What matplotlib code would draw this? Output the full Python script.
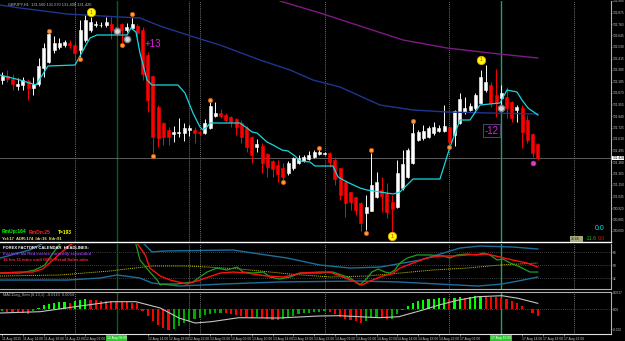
import matplotlib
matplotlib.use("Agg")
import matplotlib.pyplot as plt
from matplotlib.patches import Rectangle
import numpy as np

plt.rcParams['font.family'] = ['Liberation Sans', 'DejaVu Sans']

# ---------------- data ----------------
title_text = "GBPJPY,H1  131.560 131.570 131.400 131.420"

opens = [132.20, 132.24, 132.21, 132.14, 132.15, 132.19, 132.12, 132.16, 132.32, 132.38,
         132.50, 132.53, 132.55, 132.57, 132.55, 132.50, 132.60, 132.70, 132.75, 132.75,
         132.75, 132.76, 132.73, 132.76, 132.70, 132.72, 132.74, 132.70, 132.45, 132.24,
         131.93, 131.77, 131.70, 131.66, 131.67, 131.67, 131.70, 131.70, 131.68, 131.67,
         131.72, 131.84, 131.87, 131.85, 131.83, 131.81, 131.77, 131.72, 131.63, 131.53,
         131.54, 131.46, 131.39, 131.35, 131.32, 131.27, 131.32, 131.37, 131.39, 131.41,
         131.43, 131.46, 131.46, 131.47, 131.40, 131.32, 131.18, 131.08, 131.03, 130.97,
         130.87, 130.89, 131.03, 131.10, 131.07, 130.98, 130.93, 131.12, 131.23, 131.37,
         131.60, 131.62, 131.63, 131.67, 131.69, 131.69, 131.73, 131.65, 131.77, 131.88,
         131.90, 131.92, 131.97, 132.10, 132.15, 132.05, 132.02, 132.03, 131.98, 131.90,
         131.92, 131.80, 131.66, 131.56]
highs = [132.28, 132.30, 132.26, 132.22, 132.23, 132.21, 132.23, 132.42, 132.57, 132.70,
         132.64, 132.62, 132.60, 132.60, 132.58, 132.80, 132.85, 132.83, 132.79, 132.78,
         132.83, 132.83, 132.75, 132.77, 132.77, 132.84, 132.76, 132.73, 132.48, 132.25,
         131.95, 131.78, 131.73, 131.74, 131.82, 131.77, 131.75, 131.73, 131.70, 131.81,
         131.98, 131.98, 131.91, 131.87, 131.84, 131.82, 131.80, 131.74, 131.64, 131.61,
         131.57, 131.47, 131.40, 131.40, 131.37, 131.39, 131.43, 131.45, 131.45, 131.49,
         131.50, 131.51, 131.48, 131.48, 131.43, 131.32, 131.18, 131.08, 131.03, 130.98,
         131.05, 131.47, 131.28, 131.23, 131.17, 131.05, 131.40, 131.50, 131.52, 131.78,
         131.70, 131.75, 131.74, 131.78, 131.75, 131.95, 131.74, 131.90, 132.07, 132.03,
         131.97, 132.07, 132.30, 132.35, 132.18, 132.31, 132.15, 132.13, 131.99, 131.95,
         131.95, 131.85, 131.67, 131.57]
lows = [132.16, 132.18, 132.10, 132.10, 132.10, 132.00, 132.05, 132.14, 132.23, 132.37,
        132.47, 132.51, 132.53, 132.52, 132.40, 132.43, 132.58, 132.68, 132.73, 132.73,
        132.73, 132.61, 132.64, 132.57, 132.68, 132.71, 132.63, 132.20, 131.88, 131.47,
        131.53, 131.55, 131.55, 131.58, 131.63, 131.59, 131.64, 131.57, 131.65, 131.66,
        131.71, 131.83, 131.82, 131.78, 131.73, 131.65, 131.57, 131.48, 131.37, 131.48,
        131.27, 131.23, 131.23, 131.18, 131.20, 131.25, 131.30, 131.36, 131.38, 131.40,
        131.42, 131.45, 131.45, 131.33, 131.15, 131.00, 130.83, 130.90, 130.85, 130.69,
        130.70, 130.89, 131.02, 130.88, 130.82, 130.67, 130.92, 131.10, 131.22, 131.36,
        131.59, 131.60, 131.62, 131.65, 131.68, 131.68, 131.54, 131.54, 131.76, 131.86,
        131.89, 131.90, 131.96, 132.08, 131.93, 131.83, 131.90, 131.82, 131.78, 131.78,
        131.52, 131.57, 131.43, 131.40]
closes = [132.24, 132.21, 132.16, 132.16, 132.20, 132.12, 132.16, 132.34, 132.52, 132.66,
          132.57, 132.57, 132.58, 132.55, 132.47, 132.70, 132.80, 132.78, 132.76, 132.75,
          132.78, 132.70, 132.67, 132.70, 132.73, 132.76, 132.67, 132.26, 132.00, 131.63,
          131.62, 131.63, 131.63, 131.68, 131.68, 131.72, 131.72, 131.67, 131.67, 131.77,
          131.94, 131.87, 131.84, 131.80, 131.78, 131.73, 131.63, 131.53, 131.45, 131.56,
          131.37, 131.33, 131.31, 131.26, 131.23, 131.37, 131.42, 131.42, 131.43, 131.45,
          131.48, 131.48, 131.47, 131.38, 131.21, 131.05, 130.97, 130.98, 130.90, 130.77,
          130.93, 131.15, 131.18, 131.04, 130.88, 130.91, 131.27, 131.36, 131.50, 131.67,
          131.68, 131.69, 131.72, 131.73, 131.72, 131.74, 131.58, 131.89, 132.01, 131.92,
          131.94, 132.05, 132.23, 132.18, 131.97, 131.97, 132.07, 131.92, 131.82, 131.93,
          131.68, 131.60, 131.47, 131.42]
last_price = 131.42

# trailing stop (cyan)
cyan_x = [-0.42, 3.42, 6.5, 8.81, 14.0, 16.88, 18.23, 24.0, 24.77, 25.73, 26.5, 27.85, 28.81,
          33.81, 35.15, 36.69, 38.04, 38.62, 39.38, 39.96, 45.73, 47.08, 48.04, 49.0, 50.92,
          52.08, 53.81, 54.96, 56.31, 57.27, 59.19, 60.15, 63.62, 64.58, 66.31, 68.81, 70.15,
          72.65, 75.15, 76.5, 77.85, 79.0, 84.19, 86.12, 88.04, 89.96, 91.88, 95.73, 97.08,
          99.0, 99.96, 101.12, 103.04]
cyan_y = [132.25, 132.20, 132.15, 132.34, 132.35, 132.62, 132.65, 132.65, 132.72, 132.68,
          132.47, 132.20, 132.15, 132.15, 132.07, 131.87, 131.73, 131.70, 131.73, 131.77,
          131.77, 131.72, 131.68, 131.67, 131.58, 131.55, 131.50, 131.49, 131.44, 131.39,
          131.38, 131.34, 131.34, 131.23, 131.18, 131.12, 131.10, 131.08, 131.06, 131.08,
          131.15, 131.21, 131.21, 131.53, 131.80, 131.80, 131.95, 131.97, 132.10, 132.08,
          132.00, 131.92, 131.85]

# moving averages
blue_x = [-0.42, 3.42, 12.46, 22.65, 26.5, 30.35, 37.46, 41.88, 49.58, 55.35, 59.77, 64.96,
          72.65, 79.0, 85.54, 93.81, 103.0]
blue_y = [132.95, 132.92, 132.86, 132.83, 132.82, 132.74, 132.62, 132.55, 132.40, 132.30,
          132.20, 132.13, 131.95, 131.90, 131.88, 131.87, 131.86]
purple_x = [53.42, 61.12, 68.81, 77.08, 85.54, 93.81, 103.0]
purple_y = [132.99, 132.87, 132.74, 132.60, 132.52, 132.47, 132.42]

# markers
fractal_x = [9, 15, 23, 25, 29, 40, 54, 61, 70, 71, 79, 86]
fractal_y = [132.69, 132.41, 132.55, 132.86, 131.44, 132.00, 131.18, 131.52, 130.67, 131.50, 131.79, 131.53]
signal_x = [17, 75, 92]
signal_y = [132.88, 130.64, 132.40]
swing_x = [22, 24, 96]
swing_y = [132.69, 132.61, 131.92]
exit_x = [102]
exit_y = [131.37]

# RSI-type oscillator panel
rsi_green_x = [-0.4, 3.4, 6.3, 8.2, 10.2, 12.1, 20.0, 25.5, 26.5, 28.4, 29.8, 30.4, 31.0, 33.6,
               36.7, 38.0, 39.4, 41.3, 43.2, 45.2, 46.3, 48.2, 50.2, 51.5, 53.4, 55.4, 57.3,
               61.1, 63.6, 66.9, 68.8, 70.2, 71.1, 72.3, 73.6, 74.6, 75.5, 76.5, 77.9, 79.8,
               82.3, 84.8, 86.1, 87.5, 89.4, 91.3, 92.5, 93.8, 95.2, 96.3, 97.7, 99.6, 101.5, 103.0]
rsi_green_y = [38.9, 38.9, 43.1, 50.0, 70.8, 88.0, 90.0, 85.0, 56.9, 40.3, 29.2, 22.3, 23.7, 23.7,
               26.5, 33.4, 40.3, 45.8, 43.1, 47.2, 40.3, 38.9, 40.3, 33.4, 30.6, 33.4, 38.9,
               38.9, 40.3, 32.0, 22.3, 32.0, 40.3, 44.5, 40.3, 38.9, 43.1, 52.8, 59.7, 63.9,
               63.9, 62.5, 59.7, 63.9, 65.2, 63.9, 66.6, 63.9, 56.9, 58.3, 52.8, 47.2, 40.3, 40.3]
rsi_red_x = [-0.4, 3.4, 5.9, 7.8, 10.2, 13.0, 15.9, 25.5, 27.5, 28.4, 30.4, 32.3, 35.5, 38.0,
             41.9, 44.4, 47.1, 50.9, 54.0, 55.9, 57.3, 61.1, 63.0, 65.5, 67.5, 69.2, 70.7,
             73.2, 74.9, 76.5, 79.0, 81.7, 84.2, 86.7, 89.4, 93.2, 95.7, 98.2, 100.9, 103.0]
rsi_red_y = [38.9, 40.3, 40.3, 44.5, 59.7, 77.7, 87.4, 84.6, 63.9, 45.8, 34.8, 29.2, 23.7, 29.2,
             38.9, 40.3, 38.9, 34.8, 33.4, 36.2, 38.9, 40.3, 40.3, 33.4, 27.8, 22.3, 27.8,
             34.8, 37.5, 45.8, 52.8, 59.7, 62.5, 62.5, 63.9, 65.2, 61.1, 56.9, 52.8, 47.2]
rsi_sig_x = [-0.4, 11.1, 20.7, 28.8, 36.1, 45.7, 55.4, 63.0, 70.2, 76.5, 82.8, 89.4, 95.7, 103.0]
rsi_sig_y = [34.8, 36.2, 41.7, 48.6, 48.6, 44.5, 37.5, 33.4, 34.8, 38.9, 43.1, 45.8, 50.0, 52.8]
band_up_x = [-0.4, 5.3, 9.2, 26.5, 28.8, 31.0, 44.4, 48.2, 54.8, 61.1, 66.9, 72.7, 80.4, 85.5,
             88.0, 91.9, 98.2, 103.0]
band_up_y = [59.7, 70.8, 85.0, 85.0, 68.0, 69.4, 70.8, 66.6, 59.7, 50.0, 45.8, 47.2, 56.9, 68.0,
             73.5, 76.3, 74.9, 72.2]
band_lo_x = [-0.4, 12.5, 18.8, 22.1, 26.5, 28.8, 34.1, 42.5, 53.2, 68.6, 76.3, 83.8, 91.5, 96.1,
             99.2, 103.0]
band_lo_y = [29.2, 29.2, 32.0, 36.2, 32.0, 25.1, 20.9, 23.7, 26.5, 27.8, 26.5, 23.7, 20.9, 23.7,
             27.8, 33.4]
rsi_levels = [68, 50, 32]

# MACD histogram panel
macd_hist = [-0.0002, -0.00025, -0.0003, -0.00035, -0.0004, -0.00045, -0.0002, 0.0001, 0.0004, 0.00055,
             0.00065, 0.0007, 0.00073, 0.00068, 0.00083, 0.00093, 0.001, 0.00095, 0.0009, 0.00085,
             0.00083, 0.0008, 0.00078, 0.00075, 0.0007, 0.00068, 0.00065, -0.0002, -0.0007, -0.0012,
             -0.0016, -0.0019, -0.00205, -0.002, -0.0017, -0.0014, -0.0012, -0.001, -0.00085, -0.0006,
             -0.00045, -0.0004, -0.00035, -0.0004, -0.0005, -0.0006, -0.0007, -0.0008, -0.00085, -0.0008,
             -0.0009, -0.001, -0.00105, -0.0011, -0.001, -0.0008, -0.00065, -0.0005, -0.0004, -0.00035,
             -0.0003, -0.00025, -0.0002, -0.0003, -0.0005, -0.00075, -0.00095, -0.0011, -0.0012, -0.00135,
             -0.0012, -0.0009, -0.00085, -0.0009, -0.001, -0.00095, -0.0005, -0.0001, 0.0003, 0.00065,
             0.0008, 0.0009, 0.001, 0.00105, 0.0011, 0.00115, 0.00105, 0.0011, 0.0012, 0.00115,
             0.00125, 0.0013, 0.00135, 0.0013, 0.00125, 0.0012, 0.0011, 0.001, 0.00085, 0.00067,
             0.00033, 0.00007, -0.00033, -0.00067]
macd_sig_x = [-0.4, 7.3, 15.0, 21.1, 25.7, 30.4, 34.0, 37.1, 40.2, 45.5, 53.2, 60.9, 64.8, 72.5,
              76.3, 80.9, 84.0, 87.8, 91.5, 96.1, 99.2, 103.0]
macd_sig_y = [-0.00037, -0.00024, 0.00033, 0.00076, 0.00076, 0.00013, -0.00087, -0.00137, -0.00124,
              -0.00084, -0.00087, -0.00067, -0.00064, -0.00084, -0.00074, -0.00007, 0.00043, 0.00093,
              0.00126, 0.00136, 0.0011, 0.0006]
macd_ticks = [0.00166, 0.0, -0.002]
macd_tick_labels = ["0.0017", "0.00", "-0.002"]

# axes labels
price_ticks = [132.990, 132.875, 132.760, 132.645, 132.530, 132.415, 132.300, 132.185, 132.070,
               131.955, 131.840, 131.725, 131.610, 131.495, 131.380, 131.265, 131.150, 131.035,
               130.920, 130.805, 130.690]
price_labels = ["%.3f" % p for p in price_ticks]
time_pos = list(range(0, 109, 4))
time_labels = ["11 Aug 2015", "11 Aug 14:00", "11 Aug 18:00", "11 Aug 22:00", "12 Aug 02:00",
               "12 Aug 06:00", "12 Aug 10:00", "12 Aug 14:00", "12 Aug 18:00", "12 Aug 22:00",
               "13 Aug 02:00", "13 Aug 06:00", "13 Aug 10:00", "13 Aug 14:00", "13 Aug 18:00",
               "13 Aug 22:00", "14 Aug 02:00", "14 Aug 06:00", "14 Aug 10:00", "14 Aug 14:00",
               "14 Aug 18:00", "14 Aug 22:00", "17 Aug 02:00", "17 Aug 06:00", "17 Aug 10:00",
               "17 Aug 14:00", "17 Aug 18:00", "17 Aug 22:00"]
hidden_time_pos = [20, 24, 92, 96]
news_pos = [22, 96]
news_labels = ["12 Aug 08:00", "17 Aug 10:00"]
news_colors = ['#0d5c1a', '#22a06c']
day_sep = [14, 38, 62, 86, 110]
extra_sep = [36]

# ---------------- figure ----------------
W, H = 625, 341
fig = plt.figure(figsize=(W / 100, H / 100), dpi=100, facecolor='black')

def rect(y_top, y_bot):
    return [0, 1 - y_bot / H, 611 / W, (y_bot - y_top) / H]

ax = fig.add_axes(rect(1, 242))
ax_rsi = fig.add_axes(rect(244, 289))
ax_macd = fig.add_axes(rect(292, 334))

XL = (-0.42, 117.08)
for a in (ax, ax_rsi, ax_macd):
    a.set_facecolor('black')
    a.set_xlim(*XL)
    for s in ('left', 'top'):
        a.spines[s].set_visible(False)
    a.spines['right'].set_color('#b0b0b0')
    a.spines['right'].set_linewidth(0.8)
    a.spines['bottom'].set_color('#b0b0b0')
    a.spines['bottom'].set_linewidth(0.8)
    a.yaxis.tick_right()
    a.tick_params(axis='y', length=1.0, width=0.5, color='#a0a0a0', pad=0.4,
                  labelsize=2.35, labelcolor='#c8c8c8')
    for d in day_sep:
        a.axvline(d, color='#9a9a9a', lw=0.6, ls=(0, (1, 1.5)), zorder=0.5)
    for d in extra_sep:
        a.axvline(d, color='#555555', lw=0.8, ls=(0, (1, 0.6)), zorder=0.5)
    for p, col in zip(news_pos, news_colors):
        a.axvline(p, color=col, lw=1.0, zorder=0.6)
ax.spines['bottom'].set_color('white')
ax.spines['bottom'].set_linewidth(1.0)
ax_macd.spines['bottom'].set_color('#e0e0e0')
ax_macd.spines['top'].set_visible(True)
ax_macd.spines['top'].set_color('#b0b0b0')
ax_macd.spines['top'].set_linewidth(0.8)
ax.set_xticks([])
ax_rsi.set_xticks([])

# ---- main panel ----
ax.set_ylim(130.58, 132.99)
o = np.array(opens); hh = np.array(highs); ll = np.array(lows); c = np.array(closes)
idx = np.arange(len(o))
bull = c >= o
body_col = np.where(bull, '#ffffff', '#ff0000')
ax.vlines(idx, ll, hh, colors=body_col, lw=0.7, zorder=2)
ax.bar(idx, np.abs(c - o), bottom=np.minimum(o, c), width=0.58, color=body_col,
       edgecolor=body_col, linewidth=0.4, zorder=2.1)
ax.axhline(last_price, color='#6c6c6c', lw=0.6, zorder=1)

ax.plot(blue_x, blue_y, color='#1f3590', lw=1.0, zorder=3)
ax.plot(purple_x, purple_y, color='#7d1a86', lw=1.0, zorder=3)
ax.plot(cyan_x, cyan_y, color='#19d6e0', lw=0.9, zorder=3.2)

ax.plot(fractal_x, fractal_y, 'o', ms=3.0, mfc='#ff9a40', mec='#d05a00', mew=0.6, zorder=4)
ax.plot(signal_x, signal_y, 'o', ms=6.0, mfc='#ffff00', mec='#e0b000', mew=0.6, zorder=4)
for sx, sy in zip(signal_x, signal_y):
    ax.text(sx, sy, "1", color='#e06000', fontsize=3.5, ha='center', va='center',
            fontweight='bold', zorder=5)
ax.plot(swing_x, swing_y, 'o', ms=4.5, mfc='#d8d8d8', mec='#808080', mew=1.0, zorder=4)
ax.plot(exit_x, exit_y, 'o', ms=3.5, mfc='#e040c8', mec='#c020a0', mew=0.5, zorder=4)

ax.text(27.3, 132.56, "+13", color='#e020e0', fontsize=7, ha='left', va='center', zorder=5)
ax.text(94.1, 131.695, "-12", color='#e020e0', fontsize=7, ha='center', va='center', zorder=5,
        bbox=dict(boxstyle='square,pad=0.15', fc='black', ec='#454565', lw=0.8))

ax.set_yticks(price_ticks)
ax.set_yticklabels(price_labels)
ax.annotate("%.3f" % last_price, xy=(1, last_price), xycoords=('axes fraction', 'data'),
            xytext=(0.9, 0), textcoords='offset points', fontsize=2.35, color='black',
            ha='left', va='center', annotation_clip=False,
            bbox=dict(boxstyle='square,pad=0.15', fc='white', ec='none'))

# ---- oscillator panel ----
ax_rsi.set_ylim(16.8, 79.1)
for lv in rsi_levels:
    ax_rsi.axhline(lv, color='#7a7a7a', lw=0.5, ls=(0, (1, 2)), zorder=0.5)
ax_rsi.plot(band_up_x, band_up_y, color='#1d6e9c', lw=1.0, zorder=2)
ax_rsi.plot(band_lo_x, band_lo_y, color='#1d6e9c', lw=1.0, zorder=2)
ax_rsi.plot(rsi_sig_x, rsi_sig_y, color='#c8c800', lw=0.7, ls=(0, (1, 1)), zorder=2)
ax_rsi.plot(rsi_green_x, rsi_green_y, color='#1fa01f', lw=0.9, zorder=3)
ax_rsi.plot(rsi_red_x, rsi_red_y, color='#ff1010', lw=1.0, zorder=3)
ax_rsi.set_yticks(rsi_levels)
ax_rsi.set_yticklabels([str(v) for v in rsi_levels])

# ---- MACD panel ----
ax_macd.set_ylim(-0.00247, 0.00173)
ax_macd.axhline(0, color='#7a7a7a', lw=0.5, ls=(0, (1, 2)), zorder=0.5)
hist = np.array(macd_hist)
prev = np.concatenate([[hist[0]], hist[:-1]])
hcol = np.where(hist >= prev, np.where(hist > 0, '#00ff00', '#00a800'), '#ff0000')
ax_macd.bar(idx, hist, width=0.42, color=hcol, zorder=2)
ax_macd.plot(macd_sig_x, macd_sig_y, color='#c4c4c4', lw=0.8, zorder=3)
ax_macd.set_yticks(macd_ticks)
ax_macd.set_yticklabels(macd_tick_labels)

shown = [(p, t) for p, t in zip(time_pos, time_labels) if p not in hidden_time_pos]
ax_macd.set_xticks([p for p, _ in shown])
ax_macd.set_xticklabels([t for _, t in shown])
ax_macd.tick_params(axis='x', length=1.5, width=0.5, color='#a0a0a0', pad=1,
                    labelsize=2.4, labelcolor='#c8c8c8')
for lab in ax_macd.get_xticklabels():
    lab.set_ha('left')
for p, t in zip(news_pos, news_labels):
    ax_macd.annotate(t, xy=(p, 0), xycoords=('data', 'axes fraction'), xytext=(0, -3.0),
                     textcoords='offset points', ha='center', va='center', fontsize=2.4,
                     color='white', annotation_clip=False,
                     bbox=dict(boxstyle='square,pad=0.25', fc='#2ec82e', ec='none'))

# ---- overlay texts (pixel positions) ----
def ptxt(x, y, s, color, size, **kw):
    fig.text(x / W, 1 - y / H, s, color=color, fontsize=size, ha='left', va='center', **kw)

ptxt(8, 5, title_text, '#c0c0c0', 2.8)
ptxt(2, 232, "RmUp:164", '#00ff00', 3.6, fontweight='bold')
ptxt(29, 232, "RmDn:25", '#ff2020', 3.6, fontweight='bold')
ptxt(58, 232, "T=193", '#ffff00', 3.6, fontweight='bold')
ptxt(2, 239.5, "Yel:17  ADR:174  Idr:16  Ifdr:91", '#e8e870', 3.0, fontweight='bold')
ptxt(3, 248, "FOREX FACTORY CALENDAR  HEADLINES:", 'white', 3.0, fontweight='bold')
ptxt(3, 254, "Event 1: No Red events currently scheduled", '#9a30ff', 3.1, fontweight='bold')
ptxt(3, 260, "16 hrs 11 mins until GBP: Retail Sales m/m", '#ff2040', 3.1, fontweight='bold')
ptxt(3, 295, "MACDiag_Sem (8,13,1)  -0.0110  0.0034", '#b8b8b8', 2.8)
ptxt(595, 229, "0.0", '#00e5ee', 5.0)
fig.patches.append(Rectangle((570 / W, 1 - 241.5 / H), 13 / W, 5.5 / H, transform=fig.transFigure,
                             fc='#a8a878', ec='none', figure=fig))
ptxt(571, 238.8, "26.66", '#303020', 2.6)
ptxt(586, 238.8, "-11.6", '#20c020', 3.6)
ptxt(598, 238.8, "0.0", '#d02000', 3.6)

fig.savefig("out.png", dpi=100, facecolor='black')
